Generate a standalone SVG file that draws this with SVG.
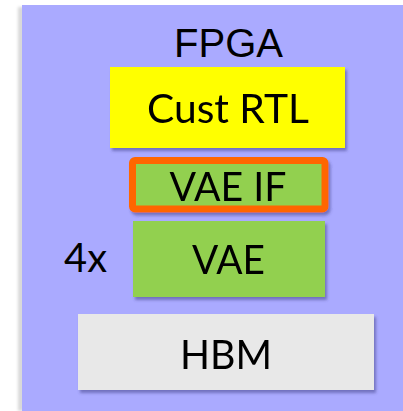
<svg xmlns="http://www.w3.org/2000/svg" width="403" height="411" viewBox="0 0 403 411">
  <defs>
    <filter id="shadow" x="-10%" y="-10%" width="125%" height="130%">
      <feGaussianBlur in="SourceAlpha" stdDeviation="1.5"/>
      <feOffset dx="2" dy="3" result="b"/>
      <feFlood flood-color="#3a3a80" flood-opacity="0.5"/>
      <feComposite in2="b" operator="in"/>
      <feMerge>
        <feMergeNode/>
        <feMergeNode in="SourceGraphic"/>
      </feMerge>
    </filter>
    <filter id="edge" x="-50%" y="-5%" width="200%" height="110%">
      <feGaussianBlur stdDeviation="1.5"/>
    </filter>
  </defs>
  <style>
    .lbl { font-family: Lato, "Open Sans", sans-serif; font-size: 40px; fill: #000; text-anchor: middle; }
    .title { font-family: "Liberation Sans", Arial, sans-serif; font-size: 40px; fill: #000; text-anchor: middle; }
  </style>

  <rect width="403" height="411" fill="#ffffff"/>

  <!-- FPGA die -->
  <g id="fpga">
    <rect x="18" y="7" width="6" height="404" fill="#d8d8d8" filter="url(#edge)"/>
    <rect x="22" y="5" width="381" height="406" fill="#aaaaff"/>
    <text class="title" x="228.5" y="57">FPGA</text>
  </g>

  <g id="cust-rtl" filter="url(#shadow)">
    <rect x="110" y="67" width="235" height="81" fill="#ffff00"/>
    <text class="lbl" x="228" y="123" font-size="42" textLength="162" lengthAdjust="spacingAndGlyphs">Cust RTL</text>
  </g>

  <g id="vae-if" filter="url(#shadow)">
    <rect x="132.5" y="160.5" width="192.5" height="48.5" rx="2.5" fill="#92d050" stroke="#ff6600" stroke-width="7"/>
    <text class="lbl" x="228" y="201" textLength="117" lengthAdjust="spacingAndGlyphs">VAE IF</text>
  </g>

  <g id="vae" filter="url(#shadow)">
    <rect x="133" y="221" width="192" height="76" fill="#92d050"/>
    <text class="lbl" x="228.5" y="274" textLength="73" lengthAdjust="spacingAndGlyphs">VAE</text>
  </g>

  <g id="vae-count">
    <text class="lbl" x="85.5" y="272" textLength="43" lengthAdjust="spacingAndGlyphs">4x</text>
  </g>

  <g id="hbm" filter="url(#shadow)">
    <rect x="78" y="314" width="296" height="76" fill="#e8e8e8"/>
    <text class="lbl" x="226" y="369" font-size="43" textLength="92" lengthAdjust="spacingAndGlyphs">HBM</text>
  </g>

  <g id="connectors"/>
</svg>
